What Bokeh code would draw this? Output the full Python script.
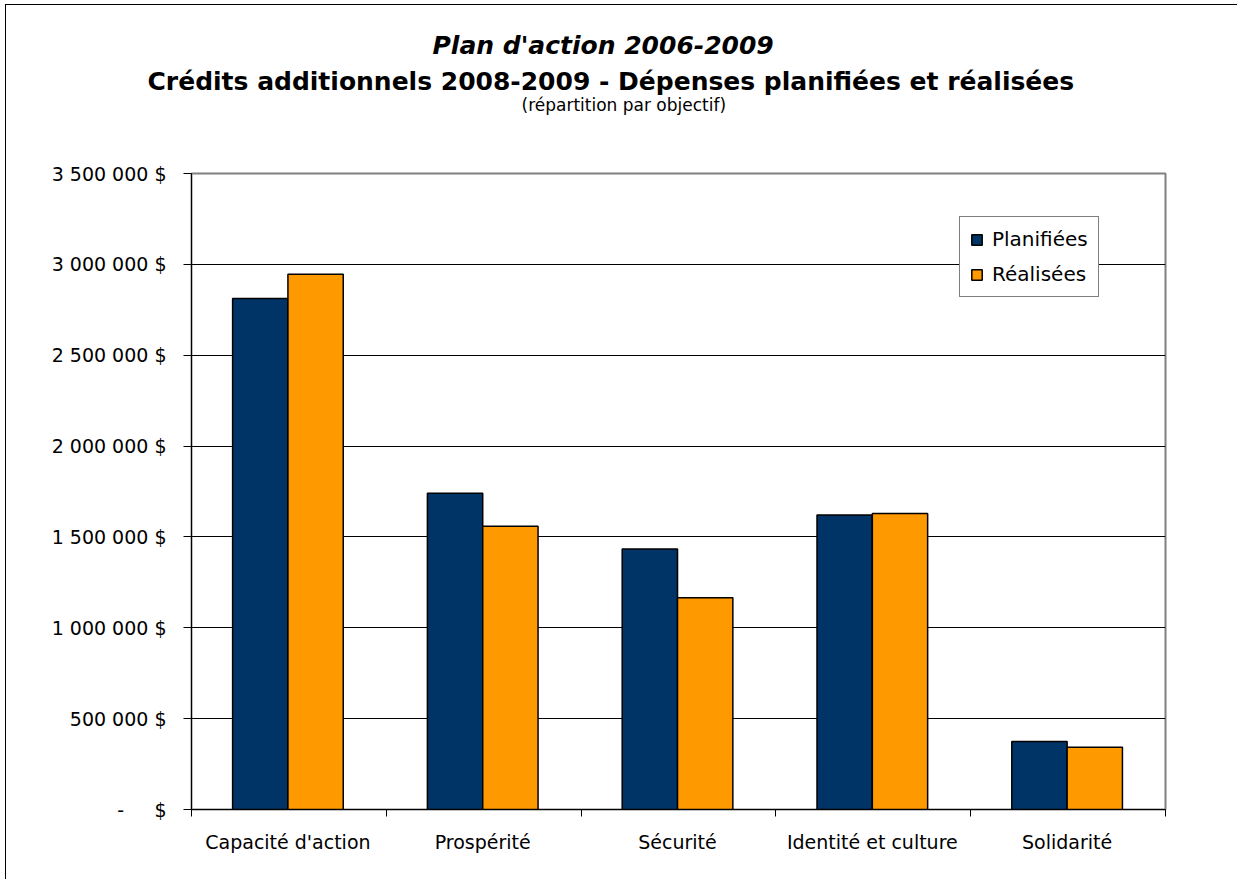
from bokeh.plotting import figure
from bokeh.models import Range1d, FixedTicker, Legend, LegendItem, Title
from bokeh.embed import file_html
from bokeh.resources import INLINE

# ---- data ----
categories = ["Capacité d'action", "Prospérité", "Sécurité", "Identité et culture", "Solidarité"]
planifiees = [2812000, 1741000, 1433000, 1620000, 374000]
realisees = [2946000, 1559000, 1165000, 1629000, 343000]
series_names = ["Planifiées", "Réalisées"]
y_tick_values = [0, 500000, 1000000, 1500000, 2000000, 2500000, 3000000, 3500000]
y_tick_labels = ["-\u00a0\u00a0\u00a0\u00a0\u00a0$", "500 000 $", "1 000 000 $", "1 500 000 $",
                 "2 000 000 $", "2 500 000 $", "3 000 000 $", "3 500 000 $"]
title_line1 = "Plan d'action 2006-2009"
title_line2 = "Crédits additionnels 2008-2009 - Dépenses planifiées et réalisées"
subtitle = "(répartition par objectif)"

BLUE = "#003366"
ORANGE = "#FF9900"
FONT = "DejaVu Sans"

n = len(categories)
centers = [i + 0.495 for i in range(n)]
bw = 0.284

p = figure(width=1232, height=875, x_range=Range1d(0, n), y_range=Range1d(0, 3500000),
           output_backend="svg", toolbar_location=None, title=None,
           min_border_left=185, min_border_right=73, min_border_top=168, min_border_bottom=71)
p.styles = {"margin-left": "5px", "margin-top": "4px",
            "border-left": "1px solid black", "border-top": "1px solid black"}
p.background_fill_color = "white"
p.border_fill_color = "white"
p.outline_line_color = "#808080"
p.outline_line_width = 2

r1 = p.vbar(x=[c - bw / 2 for c in centers], top=planifiees, width=bw, bottom=0,
            fill_color=BLUE, line_color="black", line_width=1.5)
r2 = p.vbar(x=[c + bw / 2 for c in centers], top=realisees, width=bw, bottom=0,
            fill_color=ORANGE, line_color="black", line_width=1.5)

# y axis
p.yaxis.ticker = FixedTicker(ticks=y_tick_values)
p.yaxis.major_label_overrides = {v: l for v, l in zip(y_tick_values, y_tick_labels)}
p.yaxis.major_tick_out = 8
p.yaxis.major_tick_in = 0
p.yaxis.minor_tick_line_color = None
p.yaxis.axis_line_color = "black"
p.yaxis.major_tick_line_color = "black"
p.yaxis.major_label_text_font = FONT
p.yaxis.major_label_text_font_size = "19px"
p.yaxis.major_label_text_color = "black"
p.yaxis.major_label_standoff = 17

# x axis
p.xaxis.ticker = FixedTicker(ticks=centers, minor_ticks=list(range(n + 1)))
p.xaxis.major_label_overrides = {c: l for c, l in zip(centers, categories)}
p.xaxis.major_tick_line_color = None
p.xaxis.major_tick_out = 0
p.xaxis.major_tick_in = 0
p.xaxis.minor_tick_out = 7
p.xaxis.minor_tick_in = 0
p.xaxis.minor_tick_line_color = "black"
p.xaxis.axis_line_color = "black"
p.xaxis.major_label_text_font = FONT
p.xaxis.major_label_text_font_size = "19px"
p.xaxis.major_label_text_color = "black"
p.xaxis.major_label_standoff = 14

p.xgrid.visible = False
p.ygrid.ticker = FixedTicker(ticks=y_tick_values)
p.ygrid.grid_line_color = "black"
p.ygrid.grid_line_width = 1

# titles (panels stacked from the plot outward; standoff tunes vertical placement)
p.add_layout(Title(text=subtitle, align="left", offset=330, standoff=117,
                   text_font=FONT, text_font_size="17px", text_font_style="normal",
                   text_color="black"), "above")
p.add_layout(Title(text=title_line1, align="left", offset=241, standoff=-50,
                   text_font=FONT, text_font_size="25px", text_font_style="bold italic",
                   text_color="black"), "above")
p.add_layout(Title(text=title_line2, align="left", offset=-44, standoff=-122,
                   text_font=FONT, text_font_size="25px", text_font_style="bold",
                   text_color="black"), "above")

legend = Legend(items=[LegendItem(label=series_names[0], renderers=[r1]),
                       LegendItem(label=series_names[1], renderers=[r2])],
                location=(768, 512))
legend.glyph_width = 13
legend.glyph_height = 13
legend.label_text_font = FONT
legend.label_text_font_size = "20px"
legend.label_text_color = "black"
legend.label_height = 20
legend.label_standoff = 9
legend.spacing = 11
legend.padding = 10
legend.margin = 0
legend.border_line_color = "black"
legend.border_line_width = 1
legend.background_fill_color = "white"
legend.background_fill_alpha = 1
p.add_layout(legend, "center")

open("out.html", "w").write(file_html(p, INLINE))
